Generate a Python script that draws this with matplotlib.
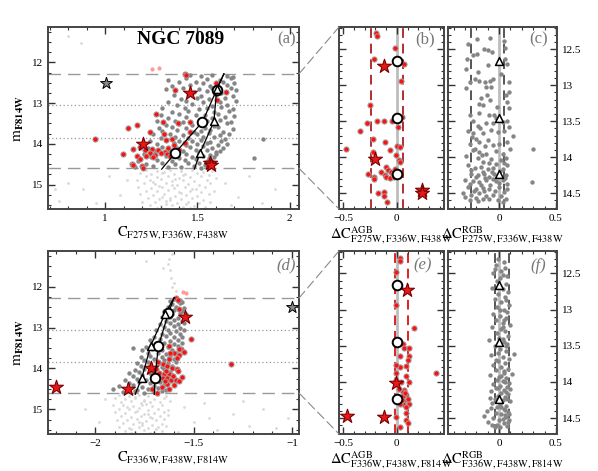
import numpy as np
import matplotlib
matplotlib.use("Agg")
import matplotlib.pyplot as plt
from matplotlib.patches import ConnectionPatch
from matplotlib.ticker import MultipleLocator, FuncFormatter

plt.rcParams["font.family"] = ["Liberation Serif", "DejaVu Serif"]
plt.rcParams["mathtext.fontset"] = "stix"

# ---- data: pairs of (x, mF814W) ----
# panel (a): C_F275W,F336W,F438W
a_ms = [1.22,14.65, 1.28,14.66, 1.35,14.64, 1.41,14.67, 1.47,14.65, 1.53,14.68, 1.58,14.66,
        1.19,14.72, 1.25,14.74, 1.31,14.71, 1.37,14.75, 1.43,14.73, 1.50,14.72, 1.56,14.76,
        1.22,14.80, 1.28,14.82, 1.34,14.79, 1.40,14.83, 1.46,14.81, 1.52,14.80, 1.60,14.84,
        1.17,14.88, 1.24,14.90, 1.30,14.87, 1.36,14.91, 1.42,14.89, 1.48,14.92, 1.55,14.88,
        1.21,14.97, 1.27,14.99, 1.33,14.96, 1.39,15.00, 1.45,14.98, 1.51,15.01, 1.57,14.97,
        1.18,15.06, 1.25,15.08, 1.31,15.05, 1.37,15.09, 1.43,15.07, 1.49,15.10, 1.54,15.06,
        1.22,15.15, 1.28,15.17, 1.34,15.14, 1.40,15.18, 1.46,15.16, 1.52,15.19, 1.59,15.15,
        1.19,15.24, 1.26,15.26, 1.32,15.23, 1.38,15.27, 1.44,15.25, 1.50,15.28, 1.56,15.24,
        1.23,15.33, 1.29,15.35, 1.35,15.32, 1.41,15.36, 1.47,15.34, 1.53,15.37,
        1.20,15.42, 1.27,15.44, 1.33,15.41, 1.39,15.45, 1.45,15.43, 1.51,15.46, 1.57,15.42,
        1.24,15.51, 1.30,15.53, 1.36,15.50, 1.42,15.54, 1.48,15.52, 1.54,15.55,
        1.28,15.58, 1.34,15.59, 1.40,15.57, 1.46,15.58,
        1.32,14.69, 1.38,14.86, 1.29,15.03, 1.41,15.21, 1.35,15.39, 1.44,15.48, 1.26,14.94,
        1.47,15.12, 1.31,15.30, 1.36,15.02, 1.42,14.77, 1.33,15.47,
        0.75,15.40, 0.80,14.95, 0.88,15.10, 0.95,15.45, 1.02,14.80, 1.08,15.25, 1.12,14.90,
        0.73,15.10, 1.65,14.95, 1.72,15.30, 1.78,14.80, 1.85,15.45, 1.92,15.10, 1.68,15.50,
        0.87,11.53, 0.80,11.35]
a_rgb = [1.46,12.31, 1.52,12.34, 1.58,12.30, 1.66,12.33, 1.69,12.36,
         1.34,12.42, 1.44,12.39, 1.55,12.41, 1.62,12.43, 1.68,12.38,
         1.40,12.49, 1.49,12.47, 1.53,12.51, 1.64,12.48, 1.70,12.50,
         1.36,12.57, 1.46,12.55, 1.57,12.58, 1.66,12.56,
         1.33,12.65, 1.42,12.63, 1.51,12.66, 1.58,12.62, 1.68,12.64, 1.71,12.67,
         1.48,12.73, 1.55,12.71, 1.63,12.74,
         1.37,12.81, 1.45,12.79, 1.52,12.82, 1.60,12.80, 1.69,12.83,
         1.41,12.89, 1.50,12.87, 1.56,12.90, 1.65,12.88,
         1.34,12.97, 1.44,12.95, 1.53,12.98, 1.62,12.96, 1.71,12.94,
         1.39,13.05, 1.47,13.03, 1.58,13.06, 1.66,13.04,
         1.31,13.13, 1.43,13.11, 1.51,13.14, 1.55,13.12, 1.63,13.10, 1.69,13.15,
         1.36,13.21, 1.45,13.19, 1.59,13.22, 1.67,13.20,
         1.30,13.29, 1.40,13.27, 1.49,13.30, 1.54,13.28, 1.61,13.26, 1.70,13.31,
         1.34,13.37, 1.44,13.35, 1.52,13.38, 1.58,13.36, 1.65,13.34,
         1.28,13.45, 1.38,13.43, 1.42,13.46, 1.55,13.44, 1.62,13.42, 1.68,13.47,
         1.33,13.53, 1.40,13.51, 1.47,13.54, 1.51,13.52, 1.59,13.55, 1.66,13.50,
         1.29,13.61, 1.36,13.59, 1.44,13.62, 1.54,13.60, 1.61,13.58, 1.69,13.63,
         1.31,13.69, 1.39,13.67, 1.48,13.70, 1.52,13.68, 1.57,13.66, 1.64,13.71,
         1.26,13.77, 1.35,13.75, 1.42,13.78, 1.50,13.76, 1.56,13.74, 1.62,13.79, 1.67,13.77,
         1.30,13.85, 1.38,13.83, 1.45,13.86, 1.53,13.84, 1.59,13.82, 1.65,13.87,
         1.24,13.93, 1.33,13.91, 1.40,13.94, 1.47,13.92, 1.52,13.90, 1.57,13.95, 1.63,13.93,
         1.28,14.01, 1.37,13.99, 1.44,14.02, 1.50,14.00, 1.55,13.98, 1.61,14.03, 1.66,14.01,
         1.23,14.09, 1.31,14.07, 1.39,14.10, 1.46,14.08, 1.53,14.06, 1.58,14.11, 1.64,14.09,
         1.27,14.17, 1.34,14.15, 1.42,14.18, 1.49,14.16, 1.55,14.14, 1.60,14.19, 1.62,14.17,
         1.21,14.25, 1.30,14.23, 1.37,14.26, 1.44,14.24, 1.51,14.22, 1.57,14.27, 1.60,14.25,
         1.25,14.33, 1.33,14.31, 1.40,14.34, 1.47,14.32, 1.53,14.30, 1.56,14.35, 1.59,14.33,
         1.18,14.41, 1.28,14.39, 1.36,14.42, 1.43,14.40, 1.49,14.38, 1.55,14.43, 1.58,14.41,
         1.22,14.49, 1.31,14.47, 1.38,14.50, 1.45,14.48, 1.51,14.46, 1.54,14.51,
         1.16,14.57, 1.26,14.55, 1.34,14.58, 1.41,14.56, 1.48,14.54, 1.52,14.59, 1.56,14.57,
         1.856,13.89, 1.805,14.35]
a_agb = [1.43,12.29, 1.44,12.32, 1.378,12.67, 1.60,12.50, 1.654,12.72, 1.607,12.93, 1.274,13.27,
         1.315,13.46, 1.126,13.62, 1.17,13.53, 1.243,13.72, 1.393,13.48, 1.46,13.46, 1.32,13.76,
         1.33,13.90, 1.36,13.89, 1.46,13.72, 1.43,13.98, 0.946,13.89, 1.19,14.08, 1.095,14.24,
         1.153,14.13, 1.216,14.16, 1.252,14.13, 1.288,14.15, 1.324,14.19, 1.342,14.10, 1.24,14.23,
         1.171,14.29, 1.19,14.37, 1.198,14.54, 1.207,14.60, 1.144,14.49, 1.333,14.24, 1.351,14.29,
         1.27,14.28, 1.30,14.22, 1.26,14.33, 1.22,14.30, 1.40,14.15, 1.37,14.04, 1.15,14.52]
a_pale = [1.252,12.15, 1.294,12.14]
a_stars = [1.207,14.00, 1.46,12.75, 1.568,14.47, 1.572,14.51]
a_gstar = [1.005,12.50]
a_fid_agb = [1.306,14.62, 1.378,14.23, 1.527,13.46, 1.604,12.67, 1.643,12.28]
a_fid_rgb = [1.483,14.62, 1.514,14.22, 1.589,13.45, 1.604,12.66, 1.643,12.28]

# panel (b): Delta C AGB (F275W,F336W,F438W)
b_agb = [-0.197,12.27, -0.19,12.31, -0.016,12.48, -0.216,12.64, 0.062,12.71, 0.034,12.94, -0.253,13.27,
         -0.278,13.52, -0.19,13.49, -0.12,13.49, -0.05,13.49, 0.05,13.44, -0.345,13.63, 0.01,13.58,
         -0.222,13.74, -0.114,13.79, 0.003,13.84, -0.479,13.88, -0.068,13.90, 0.025,13.86, -0.222,13.93,
         -0.006,13.97, 0.019,14.04, -0.10,14.13, 0.03,14.07, -0.269,14.23, -0.213,14.27, -0.213,14.30,
         -0.145,14.20, -0.114,14.25, -0.083,14.18, -0.053,14.20, -0.037,14.24, -0.10,14.27, -0.068,14.29,
         -0.022,14.16, -0.176,14.50, -0.12,14.48, -0.123,14.54, -0.093,14.62, -0.03,14.27, -0.01,14.22]
b_stars = [-0.20,14.02, -0.123,12.73, 0.231,14.46, 0.235,14.50]
b_bounds = [-0.245, 0.053]

# panel (c): Delta C RGB (F275W,F336W,F438W)
c_rgb = [-0.193,12.35, -0.076,12.34, -0.275,12.42, 0.041,12.39, -0.129,12.50, -0.10,12.51, -0.061,12.54,
         -0.193,12.56, 0.056,12.48, -0.284,12.64, 0.05,12.63, 0.07,12.70, -0.29,12.77, -0.188,12.81,
         -0.216,12.91, -0.173,12.94, -0.12,12.95, -0.076,12.94, -0.056,12.91, 0.09,12.96, -0.29,13.04,
         -0.114,13.02, -0.07,13.02, 0.09,13.09, 0.061,13.14, -0.108,13.14, -0.079,13.21, -0.173,13.26,
         -0.143,13.28, -0.02,13.30, 0.09,13.32, -0.26,13.41, -0.173,13.39, -0.085,13.42, -0.041,13.41,
         0.07,13.49, -0.188,13.56, -0.114,13.53, -0.056,13.52, 0.032,13.51, -0.275,13.63, -0.232,13.67,
         -0.143,13.67, -0.012,13.65, 0.046,13.64, 0.12,13.70, -0.202,13.74, -0.173,13.79, -0.10,13.76,
         -0.26,13.82, -0.056,13.83, 0.003,13.81, 0.07,13.79, -0.232,13.90, -0.173,13.93, -0.114,13.95,
         -0.026,13.92, 0.032,13.95, -0.29,13.98, -0.188,14.01, -0.07,14.02, -0.143,14.06, 0.017,14.04,
         0.061,14.01, -0.275,14.11, -0.216,14.15, -0.158,14.13, -0.10,14.17, -0.056,14.15, 0.032,14.16,
         0.07,14.11, -0.246,14.23, -0.188,14.25, -0.129,14.24, -0.085,14.27, -0.041,14.23, 0.061,14.25,
         -0.304,14.31, -0.232,14.33, -0.173,14.34, -0.114,14.32, -0.026,14.33, 0.032,14.32, -0.275,14.41,
         -0.202,14.44, -0.143,14.43, -0.085,14.44, 0.003,14.41, 0.07,14.44, -0.319,14.50, -0.246,14.53,
         -0.173,14.50, -0.114,14.54, -0.056,14.52, 0.017,14.54, -0.26,14.60, -0.188,14.61, -0.143,14.58,
         -0.012,14.60, 0.061,14.58, 0.296,13.89, 0.29,14.35,
         -0.21,13.88, -0.15,13.97, -0.09,14.08, -0.03,14.10, 0.04,14.08, -0.25,14.18, -0.14,14.20,
         -0.06,14.21, 0.01,14.19, -0.20,14.28, -0.12,14.29, -0.05,14.30, 0.05,14.29, -0.26,14.37,
         -0.16,14.38, -0.08,14.39, 0.00,14.36, 0.07,14.37, -0.22,14.47, -0.13,14.47, -0.04,14.47,
         0.04,14.49, -0.30,14.56, -0.20,14.57, -0.09,14.58, 0.03,14.62, -0.24,13.72, -0.12,13.85,
         0.10,13.88, -0.17,13.60, -0.07,13.62, 0.09,13.58, -0.23,13.50, -0.03,13.45, -0.16,13.18,
         0.07,13.23, -0.26,12.95, 0.02,12.85, -0.10,12.72, -0.23,12.58]
c_bounds = [-0.245, 0.044]

# panel (d): C_F336W,F438W,F814W
d_ms = [-1.88,14.65, -1.83,14.67, -1.78,14.64, -1.73,14.66, -1.68,14.65, -1.64,14.68,
        -1.90,14.73, -1.85,14.75, -1.80,14.72, -1.75,14.76, -1.70,14.74, -1.65,14.72,
        -1.87,14.82, -1.82,14.80, -1.77,14.84, -1.72,14.81, -1.67,14.83, -1.62,14.80,
        -1.91,14.90, -1.86,14.88, -1.81,14.92, -1.76,14.89, -1.71,14.91, -1.66,14.88,
        -1.88,14.98, -1.83,15.00, -1.78,14.97, -1.73,15.01, -1.68,14.99, -1.63,15.02,
        -1.90,15.07, -1.85,15.09, -1.80,15.06, -1.75,15.10, -1.70,15.08, -1.65,15.06,
        -1.87,15.16, -1.82,15.18, -1.77,15.15, -1.72,15.19, -1.67,15.17, -1.63,15.14,
        -1.89,15.25, -1.84,15.27, -1.79,15.24, -1.74,15.28, -1.69,15.26, -1.65,15.23,
        -1.86,15.34, -1.81,15.36, -1.76,15.33, -1.71,15.37, -1.66,15.35,
        -1.88,15.43, -1.83,15.45, -1.78,15.42, -1.73,15.46, -1.68,15.44, -1.64,15.41,
        -1.85,15.52, -1.80,15.54, -1.75,15.51, -1.70,15.55, -1.66,15.53,
        -1.82,15.58, -1.77,15.59, -1.72,15.57,
        -1.80,14.70, -1.74,14.86, -1.79,15.03, -1.71,15.21, -1.76,15.39, -1.69,15.48, -1.84,14.95,
        -1.73,15.12, -1.78,15.30, -1.82,15.49, -1.75,14.79,
        -1.55,14.95, -1.50,15.30, -1.45,14.85, -1.38,15.50, -1.30,15.10, -1.22,15.40, -1.15,15.00,
        -1.08,15.45, -1.02,15.20, -1.42,15.20, -1.58,15.55, -1.25,14.80, -1.98,15.30, -2.05,15.00,
        -1.95,14.75,
        -1.624,11.33, -1.616,11.78, -1.608,12.02, -1.658,11.54, -1.743,11.37, -1.60,11.90,
        -1.62,11.60, -1.59,12.10, -1.63,11.45, -1.61,11.20]
d_rgb = [-1.60,12.30, -1.57,12.32, -1.62,12.36, -1.58,12.34, -1.56,12.38, -1.61,12.43, -1.57,12.41,
         -1.63,12.51, -1.59,12.49, -1.55,12.52, -1.65,12.59, -1.60,12.57, -1.56,12.60,
         -1.61,12.67, -1.57,12.65, -1.54,12.68, -1.66,12.75, -1.62,12.73, -1.58,12.76,
         -1.64,12.83, -1.60,12.81, -1.56,12.84, -1.67,12.91, -1.62,12.89, -1.58,12.92, -1.55,12.90,
         -1.65,12.99, -1.60,12.97, -1.57,13.00, -1.69,13.07, -1.63,13.05, -1.59,13.08, -1.55,13.06,
         -1.66,13.15, -1.62,13.13, -1.57,13.16, -1.70,13.23, -1.64,13.21, -1.60,13.24, -1.56,13.22,
         -1.72,13.31, -1.67,13.29, -1.62,13.32, -1.58,13.30, -1.69,13.39, -1.65,13.37, -1.60,13.40,
         -1.56,13.38, -1.74,13.47, -1.70,13.45, -1.63,13.48, -1.58,13.46, -1.81,13.49,
         -1.76,13.55, -1.71,13.53, -1.66,13.56, -1.61,13.54, -1.57,13.52,
         -1.73,13.63, -1.68,13.61, -1.64,13.64, -1.59,13.62,
         -1.77,13.71, -1.72,13.69, -1.66,13.72, -1.62,13.70, -1.58,13.68,
         -1.75,13.79, -1.70,13.77, -1.65,13.80, -1.60,13.78,
         -1.79,13.87, -1.73,13.85, -1.68,13.88, -1.63,13.86, -1.59,13.84,
         -1.77,13.95, -1.72,13.93, -1.66,13.96, -1.61,13.94,
         -1.80,14.03, -1.75,14.01, -1.70,14.04, -1.65,14.02, -1.60,14.00,
         -1.83,14.11, -1.78,14.09, -1.72,14.12, -1.67,14.10, -1.62,14.08,
         -1.81,14.19, -1.76,14.17, -1.71,14.20, -1.66,14.18, -1.61,14.16,
         -1.85,14.27, -1.79,14.25, -1.74,14.28, -1.69,14.26, -1.64,14.24,
         -1.83,14.35, -1.78,14.33, -1.72,14.36, -1.67,14.34, -1.63,14.32,
         -1.88,14.43, -1.81,14.41, -1.76,14.44, -1.70,14.42, -1.65,14.40,
         -1.91,14.51, -1.84,14.49, -1.79,14.52, -1.73,14.50, -1.68,14.48, -1.64,14.53,
         -1.86,14.58, -1.80,14.56, -1.75,14.59, -1.70,14.57, -1.66,14.55]
d_agb = [-1.59,12.29, -1.58,12.33, -1.577,12.55, -1.515,13.27, -1.624,13.45, -1.565,13.53, -1.574,13.66,
         -1.583,13.74, -1.624,13.78, -1.658,13.90, -1.633,13.94, -1.608,13.98, -1.583,14.02, -1.69,14.02,
         -1.675,14.10, -1.65,14.14, -1.625,14.14, -1.658,14.22, -1.633,14.22, -1.616,14.27, -1.59,14.27,
         -1.574,14.31, -1.624,14.51, -1.71,14.51, -1.633,14.39, -1.58,14.05, -1.684,14.61, -1.311,13.88,
         -1.574,13.52, -1.60,13.62, -1.64,14.05, -1.70,14.30, -1.66,14.45, -1.55,13.60, -1.56,14.20,
         -1.62,13.62, -1.60,14.40, -1.68,13.85, -1.645,14.30, -1.605,14.18]
d_pale = [-1.554,12.13, -1.537,12.16]
d_stars = [-1.717,14.00, -1.545,12.73, -1.836,14.49, -2.20,14.45]
d_gstar = [-1.00,12.50]
d_fid_agb = [-1.70,14.63, -1.697,14.22, -1.679,13.45, -1.628,12.64, -1.599,12.27]
d_fid_rgb = [-1.797,14.63, -1.763,14.22, -1.718,13.44, -1.645,12.66, -1.599,12.27]

# panel (e): Delta C AGB (F336W,F438W,F814W)
e_agb = [0.025,12.28, 0.025,12.33, -0.006,12.48, -0.006,12.93, 0.157,13.26, 0.056,13.48, 0.071,13.53,
         0.117,13.53, 0.025,13.64, 0.111,13.64, 0.086,13.78, 0.025,13.80, -0.006,13.76, 0.364,13.88,
         -0.006,13.88, 0.086,13.92, -0.006,13.97, 0.04,14.00, 0.071,14.11, 0.056,14.14, 0.086,14.18,
         0.04,14.22, 0.071,14.27, 0.117,14.30, 0.056,14.30, 0.025,14.31, 0.102,14.24, 0.086,14.43,
         0.086,14.52, 0.102,14.57, 0.025,14.62, -0.006,14.48, 0.06,14.20, 0.09,14.35, 0.05,14.25,
         0.08,14.15, 0.11,14.00, 0.10,13.70, 0.02,14.10]
e_stars = [-0.012,14.02, 0.093,12.73, -0.469,14.47, -0.12,14.49]
e_bounds = [-0.02, 0.10]

# panel (f): Delta C RGB (F336W,F438W,F814W)
f_rgb = [-0.01,12.30, 0.04,12.34, -0.03,12.38, 0.05,12.42, 0.02,12.46, -0.05,12.50, 0.07,12.53,
         0.01,12.57, -0.02,12.61, 0.06,12.64, -0.06,12.70, 0.03,12.72, 0.08,12.76, -0.01,12.79,
         0.05,12.83, -0.04,12.86, 0.02,12.90, 0.09,12.93, -0.02,12.96, 0.04,13.00, 0.07,13.03,
         -0.05,13.06, 0.01,13.09, 0.06,13.12, -0.03,13.15, 0.03,13.18, 0.10,13.21, -0.06,13.24,
         0.02,13.27, 0.05,13.30, -0.02,13.33, 0.08,13.36, 0.00,13.39, -0.09,13.42, 0.04,13.45,
         0.07,13.48, -0.04,13.51, 0.01,13.54, 0.06,13.57, 0.13,13.61, -0.07,13.63, 0.03,13.66,
         0.09,13.69, -0.01,13.71, 0.05,13.74, -0.05,13.77, 0.02,13.79, 0.08,13.82, -0.03,13.84,
         0.04,13.87, 0.11,13.89, -0.08,13.91, 0.00,13.93, 0.06,13.95, -0.02,13.97, 0.03,13.99,
         0.09,14.01, -0.05,14.03, 0.01,14.05, 0.07,14.07, -0.03,14.09, 0.04,14.11, -0.07,14.13,
         0.02,14.15, 0.08,14.17, -0.01,14.19, 0.05,14.21, -0.04,14.23, 0.03,14.25, 0.10,14.27,
         -0.06,14.29, 0.01,14.31, 0.06,14.33, -0.02,14.35, 0.04,14.37, -0.11,14.40, 0.08,14.41,
         -0.03,14.43, 0.02,14.45, -0.13,14.47, 0.06,14.48, -0.05,14.50, 0.00,14.52, 0.09,14.53,
         -0.10,14.55, 0.04,14.57, -0.02,14.59, 0.07,14.61, 0.01,14.63,
         0.02,13.92, 0.05,14.00, -0.01,14.08, 0.06,14.14, 0.00,14.28, 0.05,14.39, 0.03,14.51,
         0.08,14.55, -0.04,14.62, 0.03,13.41, 0.06,13.50, -0.01,13.60, 0.04,13.85, 0.07,14.24,
         0.02,14.34, 0.05,14.46, -0.07,14.36, 0.00,12.68, 0.06,12.87, 0.03,13.24, -0.03,13.70,
         0.10,14.10, -0.08,14.22, 0.09,14.44, -0.06,14.60, 0.01,13.01, 0.04,13.14, -0.04,12.44,
         0.03,12.52]
f_bounds = [-0.04, 0.09]

fid_mags = [12.66, 13.45, 14.23]
cut_mags = [12.28, 14.60]
mid_mags = [13.05, 13.85]


def xy(flat):
    arr = np.array(flat).reshape(-1, 2)
    return arr[:, 0], arr[:, 1]


W, H = 598, 471
fig = plt.figure(figsize=(W / 100, H / 100), dpi=100)


def box(l, t, r, b):
    return fig.add_axes([l / W, 1 - b / H, (r - l) / W, (b - t) / H])


fmt = FuncFormatter(lambda v, p: ("%g" % v).replace("-", "\u2212"))


def style(ax, xmaj, xmin, ymaj, ymin):
    ax.xaxis.set_major_locator(MultipleLocator(xmaj))
    ax.xaxis.set_minor_locator(MultipleLocator(xmin))
    ax.yaxis.set_major_locator(MultipleLocator(ymaj))
    ax.yaxis.set_minor_locator(MultipleLocator(ymin))
    ax.xaxis.set_major_formatter(fmt)
    ax.yaxis.set_major_formatter(fmt)
    ax.tick_params(which="both", direction="in", top=True, right=True,
                   colors="#333333", labelcolor="black", labelsize=8)
    ax.tick_params(which="major", length=5, width=1)
    ax.tick_params(which="minor", length=2.5, width=0.8)
    for s in ax.spines.values():
        s.set_color("#444444")
        s.set_linewidth(1.4)


def cmd_panel(ax, ms, rgb, agb, pale, stars, gstar, fid_agb, fid_rgb):
    ax.scatter(*xy(ms), s=4, color="#d9d9d9", lw=0, zorder=1)
    for m in cut_mags:
        ax.axhline(m, color="#9a9a9a", lw=1, dashes=(9, 5), zorder=0)
    for m in mid_mags:
        ax.axhline(m, color="#9a9a9a", lw=0.9, ls=(0, (1, 2)), zorder=0)
    ax.scatter(*xy(rgb), s=10, color="#858585", lw=0, zorder=2)
    ax.scatter(*xy(pale), s=9, color="#ff9a9a", lw=0, zorder=2)
    ax.scatter(*xy(agb), s=14, color="#ff1010", edgecolor="#a0a0a0", lw=0.7, zorder=3)
    ax.scatter(*xy(stars), s=110, marker="*", color="#e81818", edgecolor="#7a0000", lw=0.8, zorder=4)
    ax.scatter(*xy(gstar), s=80, marker="*", color="#8a8a8a", edgecolor="black", lw=0.7, zorder=4)
    fx, fy = xy(fid_agb)
    ax.plot(fx, fy, color="black", lw=0.9, zorder=5)
    ax.scatter(fx[1:4], fy[1:4], s=48, color="white", edgecolor="black", lw=1.4, zorder=6)
    rx, ry = xy(fid_rgb)
    ax.plot(rx, ry, color="black", lw=0.9, zorder=5)
    ax.scatter(rx[1:4], ry[1:4], s=32, marker="^", color="white", edgecolor="black", lw=1.1, zorder=6)
    ax.set_ylim(15.6, 11.13)
    style(ax, 0.5, 0.1, 1, 0.25)
    ax.set_ylabel(r"$\mathrm{m}_{\mathbf{F814W}}$", fontsize=11, labelpad=4)


def dc_panel(ax, pts, bounds, bcol, agb, stars=None):
    ax.axvline(0, color="#bdbdbd", lw=2, zorder=0)
    for b in bounds:
        ax.axvline(b, color=bcol, lw=1.4, dashes=(5, 3), zorder=1)
    if agb:
        ax.scatter(*xy(pts), s=14, color="#ff1010", edgecolor="#a0a0a0", lw=0.7, zorder=3)
        ax.scatter(*xy(stars), s=110, marker="*", color="#e81818", edgecolor="#7a0000", lw=0.8, zorder=4)
        ax.scatter(np.zeros(len(fid_mags)), fid_mags, s=48, color="white",
                   edgecolor="black", lw=1.4, zorder=6)
    else:
        ax.scatter(*xy(pts), s=10, color="#858585", lw=0, zorder=2)
        ax.scatter(np.zeros(len(fid_mags)), fid_mags, s=32, marker="^", color="white",
                   edgecolor="black", lw=1.1, zorder=6)
    ax.set_ylim(14.72, 12.19)
    style(ax, 0.5, 0.1, 0.5, 0.1)


LBL = 10.5

# ---- top row ----
ax_a = box(48, 27, 299, 209)
cmd_panel(ax_a, a_ms, a_rgb, a_agb, a_pale, a_stars, a_gstar, a_fid_agb, a_fid_rgb)
ax_a.set_xlim(0.69, 2.05)
ax_a.set_xlabel(r"$\mathrm{C}_{\mathrm{F275W,F336W,F438W}}$", fontsize=LBL, labelpad=1)
ax_a.text(0.53, 0.93, "NGC 7089", transform=ax_a.transAxes, ha="center", va="center",
          fontsize=14, fontweight="bold")
ax_a.text(0.95, 0.93, "(a)", transform=ax_a.transAxes, ha="center", va="center",
          fontsize=12, color="#777777")

ax_b = box(339, 27, 444, 209)
dc_panel(ax_b, b_agb, b_bounds, "#b03030", True, b_stars)
ax_b.set_xlim(-0.54, 0.44)
ax_b.tick_params(labelleft=False)
ax_b.set_xlabel(r"$\Delta\mathrm{C}^{\mathrm{AGB}}_{\mathrm{F275W,F336W,F438W}}$", fontsize=LBL, labelpad=1)
ax_b.text(0.82, 0.93, "(b)", transform=ax_b.transAxes, ha="center", va="center",
          fontsize=12, color="#777777")

ax_c = box(448, 27, 557, 209)
dc_panel(ax_c, c_rgb, c_bounds, "#555555", False)
ax_c.set_xlim(-0.45, 0.51)
ax_c.tick_params(labelleft=False, labelright=True)
ax_c.set_xlabel(r"$\Delta\mathrm{C}^{\mathrm{RGB}}_{\mathrm{F275W,F336W,F438W}}$", fontsize=LBL, labelpad=1)
ax_c.text(0.83, 0.93, "(c)", transform=ax_c.transAxes, ha="center", va="center",
          fontsize=12, color="#777777")

# ---- bottom row ----
ax_d = box(48, 251, 299, 434)
cmd_panel(ax_d, d_ms, d_rgb, d_agb, d_pale, d_stars, d_gstar, d_fid_agb, d_fid_rgb)
ax_d.set_xlim(-2.24, -0.965)
ax_d.set_xlabel(r"$\mathrm{C}_{\mathrm{F336W,F438W,F814W}}$", fontsize=LBL, labelpad=1)
ax_d.text(0.95, 0.92, "(d)", transform=ax_d.transAxes, ha="center", va="center",
          fontsize=12, color="#777777", style="italic")

ax_e = box(339, 251, 444, 434)
dc_panel(ax_e, e_agb, e_bounds, "#e02020", True, e_stars)
ax_e.set_xlim(-0.54, 0.44)
ax_e.tick_params(labelleft=False)
ax_e.set_xlabel(r"$\Delta\mathrm{C}^{\mathrm{AGB}}_{\mathrm{F336W,F438W,F814W}}$", fontsize=LBL, labelpad=1)
ax_e.text(0.80, 0.92, "(e)", transform=ax_e.transAxes, ha="center", va="center",
          fontsize=12, color="#777777", style="italic")

ax_f = box(448, 251, 557, 434)
dc_panel(ax_f, f_rgb, f_bounds, "#555555", False)
ax_f.set_xlim(-0.45, 0.51)
ax_f.tick_params(labelleft=False, labelright=True)
ax_f.set_xlabel(r"$\Delta\mathrm{C}^{\mathrm{RGB}}_{\mathrm{F336W,F438W,F814W}}$", fontsize=LBL, labelpad=1)
ax_f.text(0.83, 0.92, "(f)", transform=ax_f.transAxes, ha="center", va="center",
          fontsize=12, color="#777777", style="italic")

# zoom connectors from the CMD cut lines to the Delta C panels
for src, dst in [(ax_a, ax_b), (ax_d, ax_e)]:
    xr = src.get_xlim()[1]
    for m, corner in zip(cut_mags, [(0, 1), (0, 0)]):
        con = ConnectionPatch(xyA=(xr, m), coordsA=src.transData, xyB=corner,
                              coordsB=dst.transAxes, color="#8a8a8a", lw=0.8,
                              linestyle=(0, (8, 4)))
        fig.add_artist(con)

fig.savefig("out.png", dpi=100)
